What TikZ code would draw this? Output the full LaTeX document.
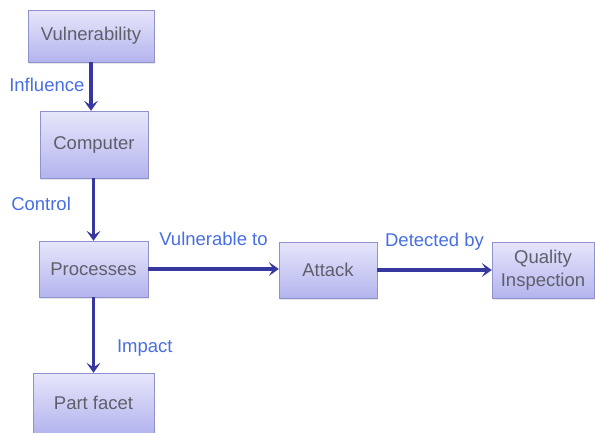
\documentclass[tikz,border=0pt]{standalone}
\usepackage{fontspec}
\setmainfont{Liberation Sans}
\usepackage{tikz}
\usepackage{xcolor}
\usetikzlibrary{arrows.meta,shadows}
\definecolor{boxtop}{RGB}{230,230,251}
\definecolor{boxbottom}{RGB}{180,180,238}
\definecolor{boxline}{RGB}{145,145,205}
\definecolor{boxtext}{RGB}{95,95,108}
\definecolor{arrowblue}{RGB}{55,55,160}
\definecolor{labelblue}{RGB}{72,110,228}
\tikzset{
    flow-box/.style = {draw=boxline, thin, rectangle, top color=boxtop, bottom color=boxbottom, text=boxtext, font=\fontsize{18.5}{21}\selectfont, inner sep=0pt, align=center, drop shadow={opacity=0.2, shadow xshift=1pt, shadow yshift=-1.5pt}},
    flow-label/.style = {text=labelblue, font=\fontsize{18.5}{21}\selectfont, inner sep=0pt, text height=13pt, text depth=4pt},
    flow-arrow/.style = {draw=arrowblue, line width=3.2pt, -{Stealth[length=10pt, width=14pt, inset=4.5pt]}},
}
\begin{document}
\begin{tikzpicture}[x=1pt, y=-1pt]
\useasboundingbox (0,0) rectangle (595,432);
\node [flow-box, minimum width=126pt, minimum height=52pt] (vuln) at (91,36) {Vulnerability};
\node [flow-box, minimum width=108pt, minimum height=67pt] (comp) at (94,144.5) {Computer};
\node [flow-box, minimum width=109pt, minimum height=56pt] (proc) at (93.5,269) {Processes};
\node [flow-box, minimum width=98pt, minimum height=56pt] (attack) at (328,270) {Attack};
\node [flow-box, minimum width=102pt, minimum height=56pt] (quality) at (543,270) {Quality\\[2pt]Inspection};
\node [flow-box, minimum width=121pt, minimum height=60pt] (facet) at (93.5,403) {Part facet};

\draw [flow-arrow] (vuln.south) -- (vuln.south |- comp.north) node [flow-label, midway, left=5pt] {Influence};
\draw [flow-arrow] (proc.north |- comp.south) -- (proc.north) node [flow-label, pos=0.45, left=21pt] {Control};
\draw [flow-arrow] (proc.east) -- (proc.east -| attack.west) node [flow-label, midway, above=18pt] {Vulnerable to};
\draw [flow-arrow] (attack.east) -- (quality.west) node [flow-label, midway, above=18pt] {Detected by};
\draw [flow-arrow] (proc.south) -- (facet.north) node [flow-label, pos=0.67, right=22pt] {Impact};
\end{tikzpicture}
\end{document}
